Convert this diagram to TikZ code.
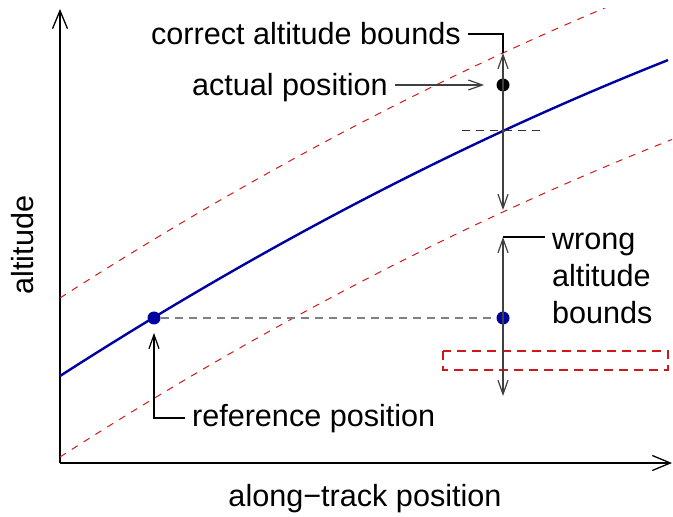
\documentclass[tikz,border=0pt]{standalone}
\usepackage{fontspec}
\setmainfont{Liberation Sans}
\usetikzlibrary{arrows.meta}
\definecolor{curveblue}{RGB}{0,0,160}
\definecolor{boundred}{RGB}{205,25,25}

\begin{document}
\begin{tikzpicture}[x=0.5pt, y=-0.5pt, every node/.style={font=\fontsize{15.3}{18.5}\selectfont},
    axis/.style={line width=0.65pt, -{Straight Barb[length=9pt,width=7.5pt]}},
    bound/.style={draw=black!75, line width=0.6pt},
    leader/.style={draw=black, line width=0.6pt},
    tip/.tip={Straight Barb[length=7pt,width=5pt]},
    reddash/.style={boundred, line width=0.5pt, dash pattern=on 3.5pt off 3.5pt},
    dot/.style={circle, inner sep=0pt, minimum size=6.5pt}]
    \useasboundingbox (0,0) rectangle (673,517);
    % Eixos
    \coordinate (origin) at (60,463);
    \coordinate (ytip) at (60,9);
    \coordinate (xtip) at (672,463);
    \draw[axis] (origin) -- (ytip);
    \draw[axis] (origin) -- (xtip);
    \node[anchor=base] (xlabel) at (365,506) {along−track position};
    \node[anchor=base, rotate=90] (ylabel) at (33,245) {altitude};
    % Limites (tracejado vermelho)
    \begin{scope}
      \clip (60,9) rectangle (672,463);
      \foreach \off in {-78, 81}
        \draw[reddash] plot[domain=60:680, samples=80, smooth]
          (\x, {376+\off-0.643*(\x-60)+2.03*((\x-60)/100)^2});
    \end{scope}
    \draw[reddash, line width=0.6pt, dash pattern=on 4.5pt off 3pt] (443,351) rectangle (668,370);
    % Curva de referencia
    \draw[curveblue, line width=1.2pt] plot[domain=60:668, samples=80, smooth]
      (\x, {376-0.643*(\x-60)+2.03*((\x-60)/100)^2});
    \draw[black!80, line width=0.5pt, dash pattern=on 4pt off 3pt] (462,131) -- (545,131);
    % Pontos
    \node[dot, fill=black] (actualdot) at (503,85) {};
    \node[dot, fill=curveblue] (refdot) at (154,318) {};
    \node[dot, fill=curveblue] (wrongdot) at (503,318) {};
    \draw[gray, line width=0.6pt, dash pattern=on 4pt off 3pt] (refdot) -- (wrongdot);
    % Limites corretos
    \coordinate (ctop) at (503,53);
    \coordinate (cbot) at (503,210);
    \node[anchor=base west] (correct) at (144,45) {correct altitude bounds};
    \draw[bound, {tip}-{tip}] (ctop) -- (cbot);
    \draw[leader] (correct.east) -| (ctop);
    % Posicao real
    \node[anchor=base west] (actual) at (185,96) {actual position};
    \draw[bound, -{tip}, shorten >=6pt] (actual.east |- actualdot) -- (actualdot);
    % Limites errados
    \coordinate (wtop) at (503,237);
    \coordinate (wbot) at (503,396);
    \node[anchor=north west, align=left] (wrong) at (545,226) {wrong\\altitude\\bounds};
    \draw[bound, {tip}-{tip}] (wtop) -- (wbot);
    \draw[leader] (wrong.west |- wtop) -- (wtop);
    % Posicao de referencia
    \node[anchor=base west] (reference) at (185,426) {reference position};
    \draw[leader, -{tip}, shorten >=4pt] (reference.west) -| (refdot);
\end{tikzpicture}
\end{document}
